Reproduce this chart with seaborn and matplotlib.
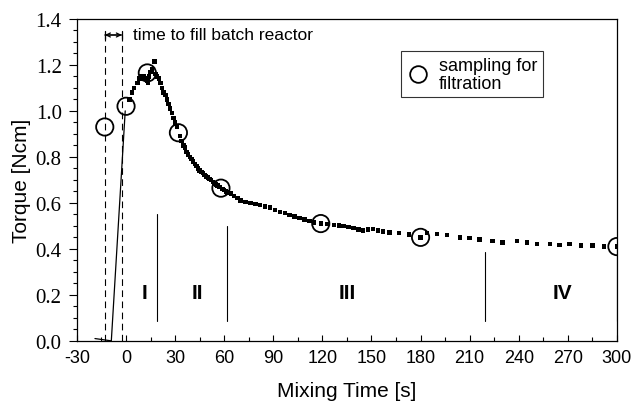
import numpy as np
import pandas as pd
import matplotlib
matplotlib.use("Agg")
import matplotlib.pyplot as plt
import seaborn as sns
from matplotlib.ticker import MultipleLocator, FormatStrFormatter
from matplotlib.lines import Line2D

# ---- data ----
time_s = [2, 3.5, 5, 7, 8, 9, 10, 11, 12, 13, 13.5, 14, 15, 16, 17.5, 18, 19, 20, 21, 22,
          23, 24, 25, 26, 27, 28, 29, 30, 31, 33, 34, 35, 36, 37, 38, 39, 40, 41, 42,
          43, 44, 45, 46, 47, 48, 49, 50, 51, 52, 53, 54, 55, 56, 57, 59, 60, 61, 62,
          64, 66, 68, 70, 73, 76, 79, 82, 85, 88, 91, 94, 97, 100, 103, 106, 109, 112,
          115, 119, 123, 127, 130, 133, 136, 139, 142, 145, 148, 151, 154, 157, 161,
          167, 173, 180, 184, 190, 196, 204, 210, 216, 224, 230, 239, 245, 251, 259,
          265, 271, 278, 285, 292, 300]
torque = [1.05, 1.08, 1.10, 1.12, 1.14, 1.15, 1.14, 1.15, 1.14, 1.13, 1.12, 1.15, 1.17,
          1.18, 1.215, 1.16, 1.15, 1.14, 1.12, 1.10, 1.08, 1.07, 1.05, 1.03, 1.01, 0.99,
          0.97, 0.95, 0.93, 0.89, 0.87, 0.85, 0.84, 0.82, 0.81, 0.80, 0.79, 0.78, 0.77,
          0.76, 0.75, 0.74, 0.735, 0.73, 0.72, 0.715, 0.71, 0.705, 0.70, 0.69, 0.685,
          0.68, 0.675, 0.67, 0.66, 0.655, 0.65, 0.645, 0.64, 0.63, 0.62, 0.61, 0.605,
          0.60, 0.595, 0.59, 0.585, 0.58, 0.57, 0.56, 0.555, 0.547, 0.54, 0.535, 0.527,
          0.52, 0.515, 0.51, 0.507, 0.505, 0.502, 0.50, 0.495, 0.49, 0.485, 0.48, 0.485,
          0.487, 0.48, 0.475, 0.472, 0.47, 0.462, 0.45, 0.468, 0.465, 0.46, 0.45, 0.447,
          0.44, 0.435, 0.427, 0.435, 0.427, 0.42, 0.42, 0.418, 0.42, 0.414, 0.414, 0.41,
          0.41]
ramp_t = [-19, -9, -0.5]
ramp_tq = [0.01, 0.0, 1.0]
sample_t = [-13, 0, 13, 32, 58, 119, 180, 300]
sample_tq = [0.93, 1.02, 1.165, 0.905, 0.664, 0.51, 0.45, 0.41]
fill_t = [-13, -2.5]
fill_top = 1.33
boundary_t = [19, 62, 219.5, 300]
boundary_top = [0.55, 0.50, 0.385, 0.40]
boundary_bottom = 0.087
region_labels = ["I", "II", "III", "IV"]
region_t = [11, 43.5, 135, 267]
region_y = 0.21
xticks = [-30, 0, 30, 60, 90, 120, 150, 180, 210, 240, 270, 300]
yticks = [0.0, 0.2, 0.4, 0.6, 0.8, 1.0, 1.2, 1.4]

sns.set_theme(style="ticks")
plt.rcParams['font.family'] = ['Liberation Sans', 'DejaVu Sans']
plt.rcParams['axes.unicode_minus'] = False
plt.rcParams['text.color'] = 'black'
plt.rcParams['axes.labelcolor'] = 'black'
plt.rcParams['xtick.color'] = 'black'
plt.rcParams['ytick.color'] = 'black'

fig = plt.figure(figsize=(6.36, 4.06), dpi=100)
ax = fig.add_axes([0.121, 0.158, 0.849, 0.793])

df = pd.DataFrame({"t": time_s, "tq": torque})
sns.scatterplot(data=df, x="t", y="tq", marker="s", s=10, color="black",
                edgecolor="none", linewidth=0, ax=ax, legend=False, zorder=3)
sns.lineplot(x=ramp_t, y=ramp_tq, color="black", lw=0.9, ax=ax, sort=False)
sns.scatterplot(x=sample_t, y=sample_tq, marker="o", s=155, color="black",
                linewidth=1.3, ax=ax, legend=False, zorder=4)
coll = ax.collections[-1]
coll.set_facecolor("none")
coll.set_edgecolor("black")

# fill time dashed lines and arrow
for ft in fill_t:
    ax.plot([ft, ft], [0, fill_top], color="black", lw=0.8, ls=(0, (6, 4)))
ax.annotate("", xy=(fill_t[1], fill_top), xytext=(fill_t[0], fill_top),
            arrowprops=dict(arrowstyle="|-|,widthA=0.25,widthB=0.25", lw=0.9, color="black",
                            shrinkA=0, shrinkB=0))
ax.annotate("", xy=(fill_t[1], fill_top), xytext=(fill_t[0], fill_top),
            arrowprops=dict(arrowstyle="<->,head_length=0.25,head_width=0.12", lw=0.9,
                            color="black", shrinkA=0, shrinkB=0))
ax.text(4.3, fill_top, "time to fill batch reactor", fontsize=12.5, va="center", ha="left",
        color="black")

# region boundaries and labels
for bt, top in zip(boundary_t, boundary_top):
    ax.plot([bt, bt], [boundary_bottom, top], color="black", lw=0.8)
for lab, rx in zip(region_labels, region_t):
    ax.text(rx, region_y, lab, fontsize=15, fontweight="bold", ha="center", va="center",
            color="black")

# legend
handle = Line2D([], [], marker="o", ls="", mfc="none", mec="black", ms=12, mew=1.3)
leg = ax.legend([handle], ["sampling for\nfiltration"], loc="upper left",
                bbox_to_anchor=(0.6, 0.9), frameon=True, fancybox=False,
                edgecolor="black", fontsize=13, handletextpad=0.5, borderpad=0.3,
                handlelength=1.3, borderaxespad=0, labelcolor="black")
for t in leg.get_texts():
    t.set_linespacing(1.1)
leg.get_frame().set_linewidth(0.8)

ax.set_xlim(-30, 300)
ax.set_ylim(0, 1.4)
ax.set_xticks(xticks)
ax.set_yticks(yticks)
ax.xaxis.set_minor_locator(MultipleLocator(15))
ax.yaxis.set_minor_locator(MultipleLocator(0.05))
ax.yaxis.set_major_formatter(FormatStrFormatter("%.1f"))
ax.tick_params(axis="x", which="major", direction="in", length=4, width=0.8,
               labelsize=13, pad=6, colors="black")
ax.tick_params(axis="x", which="minor", direction="in", length=3, width=0.8)
ax.tick_params(axis="y", which="major", direction="out", length=6, width=0.8,
               labelsize=15, pad=5, colors="black")
ax.tick_params(axis="y", which="minor", direction="out", length=3, width=0.8)
for lbl in ax.get_yticklabels():
    lbl.set_fontfamily("Liberation Serif")
for sp in ax.spines.values():
    sp.set_visible(True)
    sp.set_color("black")
    sp.set_linewidth(0.9)

ax.set_xlabel("Mixing Time [s]", fontsize=15, labelpad=11, color="black")
ax.set_ylabel("Torque [Ncm]", fontsize=15, labelpad=3, color="black")

fig.savefig("out.png", dpi=100, facecolor="white")
